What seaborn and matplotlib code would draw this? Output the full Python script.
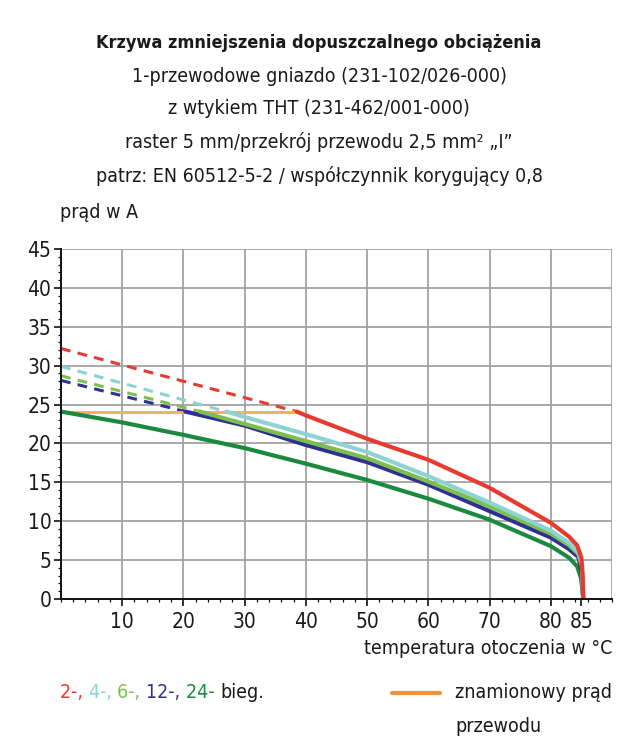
import numpy as np
import pandas as pd
import matplotlib
matplotlib.use("Agg")
import matplotlib.pyplot as plt
import seaborn as sns
from matplotlib.ticker import MultipleLocator, FixedLocator

sns.set_theme(style="white")
FONT = ['DejaVu Sans']
plt.rcParams['font.family'] = FONT
plt.rcParams['font.stretch'] = 'condensed'

# ---------------- data ----------------
title_lines = [
    "Krzywa zmniejszenia dopuszczalnego obciążenia",
    "1-przewodowe gniazdo (231-102/026-000)",
    "z wtykiem THT (231-462/001-000)",
    "raster 5 mm/przekrój przewodu 2,5 mm² „I”",
    "patrz: EN 60512-5-2 / współczynnik korygujący 0,8",
]
series_names = ["2-", "4-", "6-", "12-", "24-"]
series_colors = ["#e63b2e", "#8ed3d4", "#7dbf4f", "#2f3190", "#1b8a3f"]

# rated current of the conductor
rated_T = [0, 38.5]
rated_I = [24.1, 24.1]

# dashed extrapolated parts (above rated current)
dash_T = {
    "2-": [0, 38.5],
    "4-": [0, 27.0],
    "6-": [0, 22.7],
    "12-": [0, 20.3],
}
dash_I = {
    "2-": [32.2, 24.1],
    "4-": [29.9, 24.1],
    "6-": [28.7, 24.1],
    "12-": [28.1, 24.1],
}

# solid derating curves
solid_T = {
    "2-": [38.5, 40, 50, 60, 70, 80, 83, 84.3, 85.0, 85.2, 85.3],
    "4-": [27.0, 30, 40, 50, 60, 70, 80, 83, 84.5, 85.1, 85.3],
    "6-": [22.7, 30, 40, 50, 60, 70, 80, 83, 84.5, 85.1, 85.3],
    "12-": [20.3, 30, 40, 50, 60, 70, 80, 83, 84.5, 85.0, 85.3],
    "24-": [0, 10, 20, 30, 40, 50, 60, 70, 80, 83.0, 84.3, 84.9, 85.2, 85.3],
}
solid_I = {
    "2-": [24.1, 23.6, 20.6, 17.9, 14.3, 9.8, 8.0, 6.9, 5.3, 3.0, 0],
    "4-": [24.1, 23.4, 21.2, 18.9, 15.8, 12.4, 8.8, 7.2, 6.0, 4.5, 0],
    "6-": [24.1, 22.5, 20.3, 18.1, 15.1, 11.9, 8.4, 6.9, 5.8, 4.2, 0],
    "12-": [24.1, 22.3, 19.8, 17.6, 14.7, 11.3, 7.9, 6.4, 5.4, 3.7, 0],
    "24-": [24.1, 22.7, 21.1, 19.4, 17.4, 15.3, 12.9, 10.2, 6.8, 5.3, 4.2, 2.8, 1.0, 0],
}

x_major = [10, 20, 30, 40, 50, 60, 70, 80, 85]
x_grid = [0, 10, 20, 30, 40, 50, 60, 70, 80, 90]
y_major = [0, 5, 10, 15, 20, 25, 30, 35, 40, 45]

# ---------------- figure ----------------
W, H = 636, 747
fig = plt.figure(figsize=(W / 100, H / 100), dpi=100)
ax = fig.add_axes([61 / W, 1 - 599 / H, (612 - 61) / W, (599 - 249) / H])

ax.set_xlim(0, 90)
ax.set_ylim(0, 45)

# grid
for gx in x_grid[1:]:
    ax.axvline(gx, color="#a3a3a3", lw=1.3, zorder=0)
for gy in y_major[1:]:
    ax.axhline(gy, color="#a3a3a3", lw=1.3, zorder=0)

# dashed parts
for name, col in zip(series_names, series_colors):
    if name in dash_T:
        df = pd.DataFrame({"T": dash_T[name], "I": dash_I[name]})
        sns.lineplot(data=df, x="T", y="I", ax=ax, color=col, lw=2.2,
                     linestyle=(0, (3.2, 2.4)), sort=False, zorder=2)

# rated current line
sns.lineplot(x=rated_T, y=rated_I, ax=ax, color="#f6b256", lw=2.2, zorder=3)

# solid curves
for name, col in zip(["24-", "12-", "6-", "4-", "2-"],
                     ["#1b8a3f", "#2f3190", "#7dbf4f", "#8ed3d4", "#e63b2e"]):
    df = pd.DataFrame({"T": solid_T[name], "I": solid_I[name]})
    sns.lineplot(data=df, x="T", y="I", ax=ax, color=col, lw=3.0,
                 sort=False, zorder=4)

ax.set_xlabel("")
ax.set_ylabel("")
for s in ["top", "right"]:
    ax.spines[s].set_visible(False)
for s in ["left", "bottom"]:
    ax.spines[s].set_color("#111111")
    ax.spines[s].set_linewidth(1.4)
    ax.spines[s].set_zorder(5)

ax.xaxis.set_major_locator(FixedLocator(x_major))
ax.xaxis.set_minor_locator(MultipleLocator(2))
ax.yaxis.set_major_locator(FixedLocator(y_major))
ax.yaxis.set_minor_locator(MultipleLocator(1))
ax.set_xticklabels([str(v) for v in x_major])
ax.set_yticklabels([str(v) for v in y_major])
ax.tick_params(axis="both", which="major", direction="out", length=5, width=1.2,
               color="#111111", labelsize=15, labelcolor="#1a1a1a",
               bottom=True, left=True)
ax.tick_params(axis="both", which="minor", direction="out", length=2.5, width=0.9,
               color="#111111", bottom=True, left=True)
ax.tick_params(axis="x", which="major", pad=4)
ax.tick_params(axis="y", which="major", pad=2)
for lab in ax.get_xticklabels() + ax.get_yticklabels():
    lab.set_fontstretch('condensed')

# titles
ys = [43, 76, 109, 142, 176]
for i, (line, yp) in enumerate(zip(title_lines, ys)):
    fig.text(319 / W, 1 - yp / H, line, ha="center", va="center",
             fontsize=13 if i == 0 else 14, color="#1a1a1a",
             fontstretch="condensed",
             fontweight="bold" if i == 0 else "normal")
fig.text(60 / W, 1 - 213 / H, "prąd w A", ha="left", va="center",
         fontsize=14, color="#1a1a1a", fontstretch="condensed")
fig.text(612 / W, 1 - 648 / H, "temperatura otoczenia w °C", ha="right",
         va="center", fontsize=14, color="#1a1a1a", fontstretch="condensed")

# legend: coloured numbers
pieces = [("2-, ", "#e63b2e"), ("4-, ", "#8ed3d4"), ("6-, ", "#7dbf4f"),
          ("12-, ", "#2f3190"), ("24- ", "#1b8a3f"), ("bieg.", "#1a1a1a")]
prev = fig.text(60 / W, 1 - 693 / H, pieces[0][0], ha="left", va="center",
                fontsize=14, color=pieces[0][1], fontstretch="condensed")
for txt, col in pieces[1:]:
    prev = ax.annotate(txt, xy=(1, 0), xycoords=prev, ha="left", va="bottom",
                       fontsize=14, color=col, fontstretch="condensed",
                       annotation_clip=False)

fig.add_artist(plt.Line2D([392 / W, 440 / W], [1 - 693 / H, 1 - 693 / H],
                          color="#f0923a", lw=3, transform=fig.transFigure))
fig.text(455 / W, 1 - 693 / H, "znamionowy prąd", ha="left", va="center",
         fontsize=14, color="#1a1a1a", fontstretch="condensed")
fig.text(455 / W, 1 - 726 / H, "przewodu", ha="left", va="center",
         fontsize=14, color="#1a1a1a", fontstretch="condensed")

fig.savefig("out.png", dpi=100, facecolor="white")
